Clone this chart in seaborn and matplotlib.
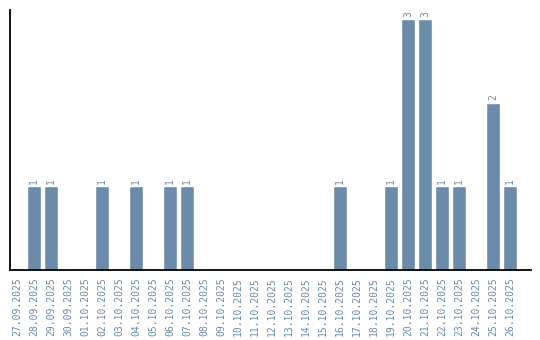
import matplotlib
matplotlib.use("Agg")
import matplotlib.pyplot as plt
import seaborn as sns
import pandas as pd

dates = ["27.09.2025", "28.09.2025", "29.09.2025", "30.09.2025", "01.10.2025",
         "02.10.2025", "03.10.2025", "04.10.2025", "05.10.2025", "06.10.2025",
         "07.10.2025", "08.10.2025", "09.10.2025", "10.10.2025", "11.10.2025",
         "12.10.2025", "13.10.2025", "14.10.2025", "15.10.2025", "16.10.2025",
         "17.10.2025", "18.10.2025", "19.10.2025", "20.10.2025", "21.10.2025",
         "22.10.2025", "23.10.2025", "24.10.2025", "25.10.2025", "26.10.2025"]
counts = [0, 1, 1, 0, 0, 1, 0, 1, 0, 1, 1, 0, 0, 0, 0, 0, 0, 0, 0, 1,
          0, 0, 1, 3, 3, 1, 1, 0, 2, 1]

df = pd.DataFrame({"date": dates, "count": counts})

sns.set_style("white")
plt.rcParams['font.family'] = ['DejaVu Sans Mono', 'DejaVu Sans']

color = "#6a8caa"
fig = plt.figure(figsize=(5.4, 3.4), dpi=100)
ax = fig.add_axes([10/540, 70/340, 521/540, 260/340])
sns.barplot(data=df, x="date", y="count", color=color, saturation=1,
            width=0.82, ax=ax)

for i, v in enumerate(counts):
    if v > 0:
        ax.text(i, v + 0.03, str(v), rotation=90, ha="center", va="bottom",
                fontsize=7, color=color)

ax.set_xlim(-0.41, 30.24)
ax.set_ylim(0, 3.11)
ax.set_xlabel("")
ax.set_ylabel("")
ax.set_yticks([])
ax.tick_params(axis="x", length=0, pad=5, labelsize=7, labelcolor=color)
for lbl in ax.get_xticklabels():
    lbl.set_rotation(90)
for s in ["top", "right"]:
    ax.spines[s].set_visible(False)
for s in ["left", "bottom"]:
    ax.spines[s].set_color("black")
    ax.spines[s].set_linewidth(1.3)

fig.savefig("out.png", dpi=100)
